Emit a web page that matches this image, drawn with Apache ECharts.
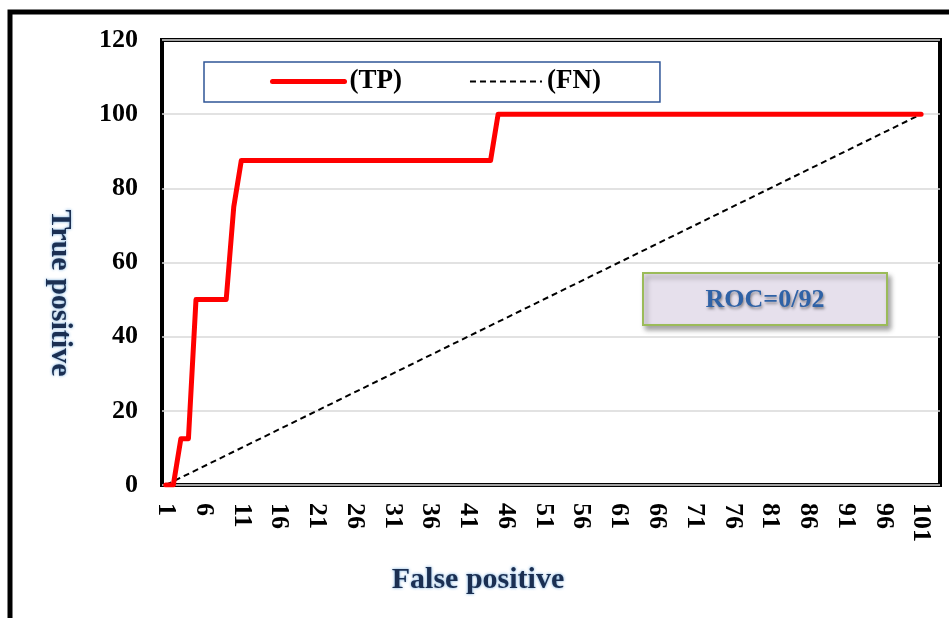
<!DOCTYPE html>
<html>
<head>
<meta charset="utf-8">
<script src="https://cdn.jsdelivr.net/npm/echarts@6/dist/echarts.min.js"></script>
<style>
  html, body { margin: 0; padding: 0; background: #fff; }
  #roc { width: 949px; height: 618px; }
</style>
</head>
<body>
<div id="roc"></div>
<script>
// ROC curve - TP steps vs the FN diagonal
var myChart = echarts.init(document.getElementById('roc'));

var categories = [];
for (var i = 1; i <= 103; i++) categories.push(String(i));

// corners of the TP step curve [false positive, true positive]
var tpPoints = [
  [1, 0], [2, 0], [3, 12.5], [4, 12.5], [5, 50], [9, 50],
  [10, 75], [11, 87.5], [44, 87.5], [45, 100], [101, 100]
];
// FN reference diagonal, end points
var fnPoints = [[1, 0], [101, 100]];

var yTicks = [0, 20, 40, 60, 80, 100, 120];
var rocText = 'ROC=0/92';

function toCat(list) {
  return list.map(function (p) { return [String(p[0]), p[1]]; });
}

var serif = 'Liberation Serif';
var navyTitle = {
  fill: '#1b2f52',
  font: 'bold 30px "Liberation Serif"',
  textShadowColor: 'rgba(91,155,213,0.9)',
  textShadowBlur: 3
};

var option = {
  animation: false,
  backgroundColor: '#ffffff',
  grid: {
    left: 162,
    top: 40,
    right: 9,
    bottom: 133,
    show: true,
    borderColor: '#000',
    borderWidth: 4,
    backgroundColor: '#fff'
  },
  legend: {
    left: 204,
    top: 62,
    padding: [6, 59, 7, 66],
    itemWidth: 72,
    itemHeight: 14,
    itemGap: 67,
    backgroundColor: '#fff',
    borderColor: '#2f5597',
    borderWidth: 1.5,
    itemStyle: { color: 'rgba(0,0,0,0)', borderWidth: 0 },
    textStyle: {
      fontFamily: serif,
      fontWeight: 'bold',
      fontSize: 27,
      color: '#000'
    },
    data: [
      { name: '(TP)', lineStyle: { width: 5 } },
      { name: '(FN)', lineStyle: { width: 2 } }
    ]
  },
  xAxis: {
    type: 'category',
    data: categories,
    boundaryGap: true,
    axisLine: { show: false },
    axisTick: { show: false },
    splitLine: { show: false },
    axisLabel: {
      interval: 4,
      rotate: -90,
      margin: 18,
      fontFamily: serif,
      fontWeight: 'bold',
      fontSize: 26,
      color: '#000'
    }
  },
  yAxis: {
    type: 'value',
    min: yTicks[0],
    max: yTicks[yTicks.length - 1],
    interval: 20,
    axisLine: { show: false },
    axisTick: { show: false },
    splitLine: { lineStyle: { color: '#d9d9d9', width: 1.5 } },
    axisLabel: {
      margin: 24,
      fontFamily: serif,
      fontWeight: 'bold',
      fontSize: 26,
      color: '#000'
    }
  },
  series: [
    {
      name: '(TP)',
      type: 'line',
      data: toCat(tpPoints),
      symbol: 'none',
      z: 3,
      lineStyle: { color: '#ff0000', width: 5, cap: 'round', join: 'round' },
      itemStyle: { color: '#ff0000' }
    },
    {
      name: '(FN)',
      type: 'line',
      data: toCat(fnPoints),
      symbol: 'none',
      z: 2,
      lineStyle: { color: '#000', width: 2, type: [6, 4] },
      itemStyle: { color: '#000' }
    }
  ],
  graphic: [
    {
      type: 'rect',
      silent: true,
      z: -1,
      shape: { x: 10, y: 12, width: 960, height: 640 },
      style: { fill: 'none', stroke: '#000', lineWidth: 5 }
    },
    {
      type: 'text',
      x: 60,
      y: 293,
      rotation: -Math.PI / 2,
      style: Object.assign({ text: 'True positive', align: 'center', verticalAlign: 'middle' }, navyTitle)
    },
    {
      type: 'text',
      x: 478,
      y: 580,
      style: Object.assign({ text: 'False positive', align: 'center', verticalAlign: 'middle' }, navyTitle)
    },
    {
      type: 'rect',
      z: 10,
      shape: { x: 643, y: 273, width: 244, height: 52 },
      style: {
        fill: '#e6e0ec',
        stroke: '#9bbb59',
        lineWidth: 2,
        shadowColor: 'rgba(0,0,0,0.35)',
        shadowBlur: 5,
        shadowOffsetX: 3,
        shadowOffsetY: 4
      }
    },
    {
      type: 'text',
      z: 11,
      x: 765,
      y: 300,
      style: {
        text: rocText,
        align: 'center',
        verticalAlign: 'middle',
        fill: '#2f62a6',
        font: 'bold 26px "Liberation Serif"',
        textShadowColor: 'rgba(0,0,0,0.45)',
        textShadowBlur: 3,
        textShadowOffsetX: 1,
        textShadowOffsetY: 2
      }
    }
  ]
};

myChart.setOption(option);
</script>
</body>
</html>
